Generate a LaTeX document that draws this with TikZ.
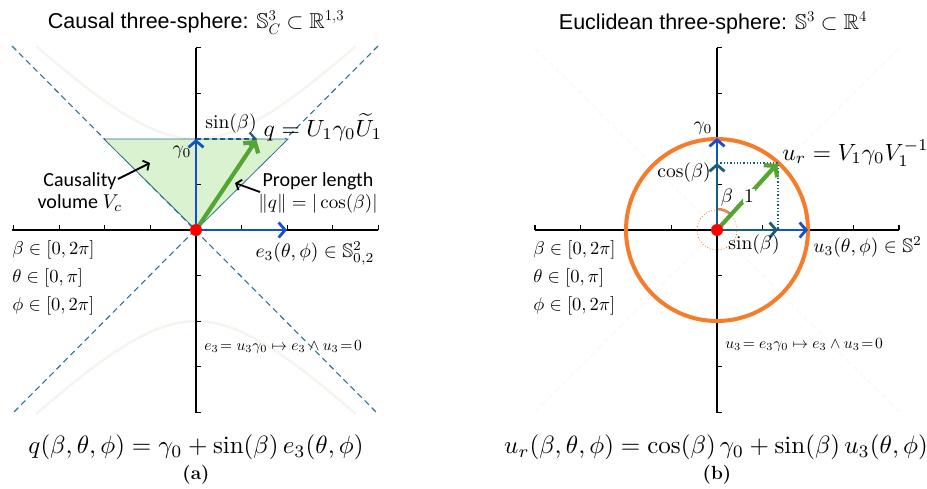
\RequirePackage{fix-cm}
\documentclass[tikz,border=0pt]{standalone}
\usepackage{amsmath}
\usepackage{amssymb}
\usepackage{graphicx}
\usepackage{fontspec}
\newfontfamily\titlefont{Liberation Sans}
\newfontfamily\calfont{Carlito}
\usetikzlibrary{arrows.meta}
\definecolor{vblue}{HTML}{1450CC}
\definecolor{vteal}{HTML}{1D5B7B}
\definecolor{vgreen}{HTML}{55A532}
\definecolor{conec}{HTML}{2F6F96}
\definecolor{trifill}{HTML}{DAF2D0}
\definecolor{orng}{HTML}{F47C2A}
\definecolor{arcor}{HTML}{E8824A}
\definecolor{faint}{HTML}{F6F4EE}
\newcommand{\scaledmathlabel}[2]{{\normalsize\scalebox{#1}{$#2$}}}
\tikzset{
  axisline/.style={line width=1.6pt, black},
  tickmark/.style={line width=1.2pt, black},
  vecblue/.style={line width=2.8pt, vblue, -{Straight Barb[length=6.5pt,width=15pt]}},
  vecteal/.style={line width=2.8pt, vteal, -{Straight Barb[length=6.5pt,width=15pt]}},
  vecgreen/.style={line width=4.2pt, vgreen, -{Straight Barb[length=7.5pt,width=18pt]}},
  conedash/.style={conec, line width=1.1pt, dash pattern=on 6pt off 4pt},
  faintdash/.style={black!4, line width=1pt, dash pattern=on 6pt off 4pt},
  pointer/.style={line width=1.8pt, black, -{Straight Barb[length=4.5pt,width=11pt]}},
  smallmath/.style={font=\normalsize, inner sep=0pt, scale=1.95},
  listmath/.style={font=\normalsize, inner sep=0pt, anchor=west, scale=1.85},
  bigmath/.style={font=\normalsize, inner sep=0pt, scale=2.5},
  midmath/.style={font=\normalsize, inner sep=0pt, scale=2.35},
  relmath/.style={font=\normalsize, inner sep=0pt, anchor=west, scale=1.55},
  titletext/.style={font=\titlefont\fontsize{21.5}{25}\selectfont, inner sep=0pt},
  caltext/.style={font=\calfont\fontsize{20}{22}\selectfont, inner sep=0pt, align=center},
  captext/.style={font=\bfseries\fontsize{19}{23}\selectfont, inner sep=0pt},
  reddot/.style={fill=red, draw=none},
}
\begin{document}
\begin{tikzpicture}[x=1pt,y=-1pt]
\useasboundingbox (0,0) rectangle (927,488);
% ================= LEFT PANEL =================
\coordinate (O1) at (196,230);
\coordinate (L1) at (12,230);
\coordinate (R1) at (378,230);
\coordinate (T1) at (196,48);
\coordinate (B1) at (196,413);
% faint hyperbolas
\draw[faint, line width=2.5pt] plot[domain=-3.5:3.5, samples=60, smooth] ({196+45.6*\x},{230-45.6*sqrt(4+\x*\x)});
\draw[faint, line width=2.5pt] plot[domain=-3.5:3.5, samples=60, smooth] ({196+45.6*\x},{230+45.6*sqrt(4+\x*\x)});
% light cone
\coordinate (c1a) at (12,46); \coordinate (c1b) at (378,414);
\coordinate (c2a) at (378,46); \coordinate (c2b) at (12,414);
\draw[conedash] (c1a) -- (c1b);
\draw[conedash] (c2a) -- (c2b);
% causality triangle
\coordinate (triL) at (104,139);
\coordinate (triR) at (288,139);
\draw[fill=trifill, draw=conec, line width=0.8pt] (O1) -- (triL) -- (triR) -- cycle;
% axes
\draw[axisline] (L1) -- (R1);
\draw[axisline] (T1) -- (B1);
\foreach \i in {-4,...,4} {
  \draw[tickmark] ({196+45.6*\i},230) -- ++(0,-5);
  \draw[tickmark] (196,{230+45.6*\i}) -- ++(5,0);
}
% vectors
\coordinate (G1) at (196,139);
\coordinate (Q1) at (257,139);
\coordinate (E1) at (287,230);
\draw[vteal, line width=2.2pt, dash pattern=on 5pt off 3pt, -{Straight Barb[length=6pt,width=13pt]}] (G1) -- (Q1);
\draw[vecblue] (O1) -- (G1);
\draw[vecblue] (O1) -- (E1);
\draw[vecgreen, shorten >=1pt] (O1) -- (Q1);
% labels
\node[titletext] (tA) at (196,23) {Causal three-sphere: $\mathbb{S}^3_C \subset \mathbb{R}^{1,3}$};
\node[smallmath] (g0A) at (182,152) {$\gamma_0$};
\node[smallmath] (sbA) at (231,124) {$\sin(\beta)$};
\node[midmath] (qA) at (323,127) {$q=U_1\gamma_0\widetilde{U}_1$};
\node[caltext] (cvA) at (80,192) {Causality\\volume \scaledmathlabel{2}{V_c}};
\node[caltext] (plA) at (318,193) {Proper length\\\scaledmathlabel{1.9}{\lVert q\rVert=|\cos(\beta)|}};
\coordinate (cvS) at (118,179); \coordinate (cvE) at (150,163);
\coordinate (plS) at (260,192); \coordinate (plE) at (235,183);
\draw[pointer] (cvS) -- (cvE);
\draw[pointer] (plS) -- (plE);
\node[smallmath] (e3A) at (315,253) {$e_3(\theta,\phi)\in\mathbb{S}^2_{0,2}$};
\node[listmath] (bA) at (12,250) {$\beta\in[0,2\pi]$};
\node[listmath] (thA) at (12,278) {$\theta\in[0,\pi]$};
\node[listmath] (phA) at (12,306) {$\phi\in[0,2\pi]$};
\node[relmath] (relA) at (204,347) {$e_3\!= u_3\gamma_0\mapsto e_3\wedge u_3\!=\!0$};
\node[bigmath] (fA) at (196,447) {$q(\beta,\theta,\phi)=\gamma_0+\sin(\beta)\,e_3(\theta,\phi)$};
\node[captext] (capA) at (196,475) {(a)};
\fill[reddot] (O1) circle[radius=6pt];
% ================= RIGHT PANEL =================
\coordinate (O2) at (717,230);
\coordinate (L2) at (535,230);
\coordinate (R2) at (899,230);
\coordinate (T2) at (717,48);
\coordinate (B2) at (717,413);
\coordinate (f1a) at (535,48); \coordinate (f1b) at (899,412);
\coordinate (f2a) at (899,48); \coordinate (f2b) at (535,412);
\draw[faintdash] (f1a) -- (f1b);
\draw[faintdash] (f2a) -- (f2b);
\draw[axisline] (L2) -- (R2);
\draw[axisline] (T2) -- (B2);
\foreach \i in {-4,...,4} {
  \draw[tickmark] ({717+45.5*\i},230) -- ++(0,-5);
  \draw[tickmark] (717,{230+45.6*\i}) -- ++(5,0);
}
\draw[orng, line width=4pt] (O2) circle[radius=91pt];
\draw[orng, line width=0.8pt, dotted] (O2) circle[radius=20pt];
\draw[arcor, line width=2.5pt] (717,209) arc[start angle=90, end angle=46, radius=21pt];
\coordinate (U2) at (778,163);
\coordinate (C2) at (717,163);
\coordinate (S2) at (778,230);
\coordinate (G2) at (717,138);
\coordinate (E2) at (808,230);
\draw[vteal, line width=1.3pt, dotted] (C2) -- (U2) -- (S2);
\draw[vecblue] (O2) -- (G2);
\draw[vecblue] (O2) -- (E2);
\draw[vecteal] (O2) -- (C2);
\draw[vecteal] (O2) -- (S2);
\draw[vecgreen, shorten >=1pt] (O2) -- (U2);
\node[titletext] (tB) at (713,23) {Euclidean three-sphere: $\mathbb{S}^3 \subset \mathbb{R}^4$};
\node[smallmath] (g0B) at (703,128) {$\gamma_0$};
\node[midmath, anchor=west] (urB) at (782,153) {$u_r=V_1\gamma_0V_1^{-1}$};
\node[smallmath] (cbB) at (684,173) {$\cos(\beta)$};
\node[smallmath] (beB) at (727,198) {$\beta$};
\node[smallmath, fill=white, inner sep=0.5pt] (oneB) at (749,196) {$1$};
\node[smallmath] (sbB) at (754,245) {$\sin(\beta)$};
\node[smallmath, anchor=west] (u3B) at (813,247) {$u_3(\theta,\phi)\in\mathbb{S}^2$};
\node[listmath] (bB) at (533,250) {$\beta\in[0,2\pi]$};
\node[listmath] (thB) at (533,278) {$\theta\in[0,\pi]$};
\node[listmath] (phB) at (533,306) {$\phi\in[0,2\pi]$};
\node[relmath] (relB) at (725,345) {$u_3\!= e_3\gamma_0\mapsto e_3\wedge u_3\!=\!0$};
\node[bigmath] (fB) at (716,447) {$u_r(\beta,\theta,\phi)=\cos(\beta)\,\gamma_0+\sin(\beta)\,u_3(\theta,\phi)$};
\node[captext] (capB) at (717,475) {(b)};
\fill[reddot] (O2) circle[radius=6pt];
\end{tikzpicture}
\end{document}
